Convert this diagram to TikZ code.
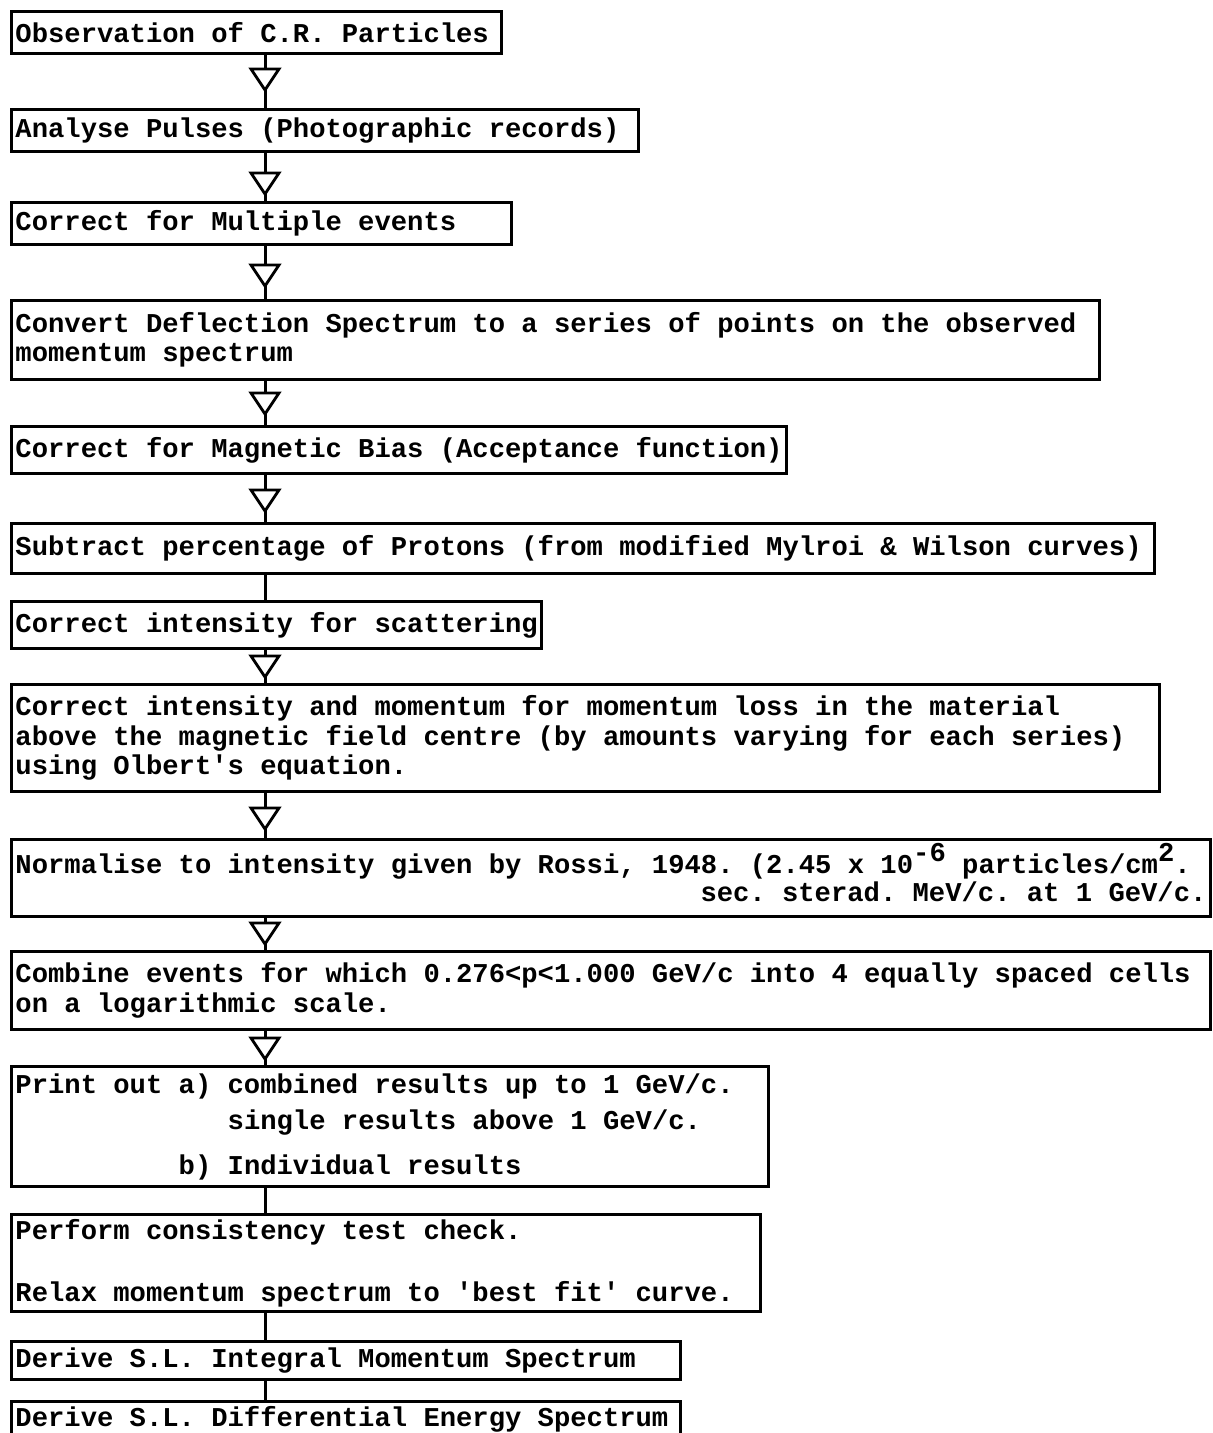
\documentclass[tikz,border=0pt]{standalone}
\usepackage{fontspec}
\setmonofont{Liberation Mono}
\tikzset{
  box/.style={draw, line width=1.5pt, anchor=north west, align=left,
    inner xsep=2pt, inner ysep=0pt,
    font=\ttfamily\bfseries\fontsize{13.6}{14.75}\selectfont\frenchspacing,
    execute at begin node={\spaceskip=\fontdimen2\font\relax\xspaceskip=\fontdimen2\font\relax}},
  conn/.style={line width=1.5pt},
  opentri/.pic={\draw[line width=1.4pt, fill=white, line join=miter]
    (-14,0) -- (14,0) -- (0,21) -- cycle;}
}
\begin{document}
\begin{tikzpicture}[x=0.5pt, y=-0.5pt]
\useasboundingbox[fill=white] (0,0) rectangle (1212,1433);
\coordinate (spine) at (265,0);

\node[box, minimum height=21pt, text width=241pt] (b1) at (10,10) {Observation of C.R. Particles};
\node[box, minimum height=21pt, text width=309.5pt] (b2) at (10,108) {Analyse Pulses (Photographic records)};
\node[box, minimum height=21pt, text width=246pt] (b3) at (10,201) {Correct for Multiple events};
\node[box, minimum height=39.5pt, text width=540pt] (b4) at (10,299) {Convert Deflection Spectrum to a series of points on the observed\\momentum spectrum};
\node[box, minimum height=23.5pt] (b5) at (10,425) {Correct for Magnetic Bias (Acceptance function)};
\node[box, minimum height=25pt, text width=567.5pt] (b6) at (10,522) {Subtract percentage of Protons (from modified Mylroi \& Wilson curves)};
\node[box, minimum height=23.5pt] (b7) at (10,600) {Correct intensity for scattering};
\node[box, minimum height=53.5pt, text width=570pt] (b8) at (10,683) {Correct intensity and momentum for momentum loss in the material\\above the magnetic field centre (by amounts varying for each series)\\using Olbert's equation.};
\node[box, minimum height=38.5pt, text width=595.5pt] (b9) at (10,838) {Normalise to intensity given by Rossi, 1948. (2.45 x 10\smash{\raisebox{6pt}{-6}} particles/cm\smash{\raisebox{6pt}{2}}.\\[-0.75pt]\hspace*{0pt plus 1filll}sec. sterad. MeV/c. at 1 GeV/c.};
\node[box, minimum height=39pt, text width=595.5pt] (b10) at (10,950) {Combine events for which 0.276<p<1.000 GeV/c into 4 equally spaced cells\\on a logarithmic scale.};
\node[box, minimum height=60pt, text width=374.5pt] (b11) at (10,1065) {Print out a) combined results up to 1 GeV/c.\\[3.25pt]\phantom{Print out a)\ }single results above 1 GeV/c.\\[7.75pt]\phantom{Print out\ }b) Individual results};
\node[box, minimum height=48.5pt, text width=370.5pt] (b12) at (10,1213) {Perform consistency test check.\\[16.25pt]Relax momentum spectrum to 'best fit' curve.};
\node[box, minimum height=19pt, text width=330.5pt] (b13) at (10,1340) {Derive S.L. Integral Momentum Spectrum};
\node[box, minimum height=18pt, text width=330.5pt] (b14) at (10,1400) {Derive S.L. Differential Energy Spectrum};

% connectors
\draw[conn] (b1.south -| spine) -- (b2.north -| spine);
\draw[conn] (b2.south -| spine) -- (b3.north -| spine);
\draw[conn] (b3.south -| spine) -- (b4.north -| spine);
\draw[conn] (b4.south -| spine) -- (b5.north -| spine);
\draw[conn] (b5.south -| spine) -- (b6.north -| spine);
\draw[conn] (b6.south -| spine) -- (b7.north -| spine);
\draw[conn] (b7.south -| spine) -- (b8.north -| spine);
\draw[conn] (b8.south -| spine) -- (b9.north -| spine);
\draw[conn] (b9.south -| spine) -- (b10.north -| spine);
\draw[conn] (b10.south -| spine) -- (b11.north -| spine);
\draw[conn] (b11.south -| spine) -- (b12.north -| spine);
\draw[conn] (b12.south -| spine) -- (b13.north -| spine);
\draw[conn] (b13.south -| spine) -- (b14.north -| spine);

% open triangles
\path (b1.south -| spine) ++(0,14) pic {opentri};
\path (b2.south -| spine) ++(0,20) pic {opentri};
\path (b3.south -| spine) ++(0,19) pic {opentri};
\path (b4.south -| spine) ++(0,12) pic {opentri};
\path (b5.south -| spine) ++(0,15) pic {opentri};
\path (b7.south -| spine) ++(0,6) pic {opentri};
\path (b8.south -| spine) ++(0,15) pic {opentri};
\path (b9.south -| spine) ++(0,5) pic {opentri};
\path (b10.south -| spine) ++(0,7) pic {opentri};
\end{tikzpicture}
\end{document}
